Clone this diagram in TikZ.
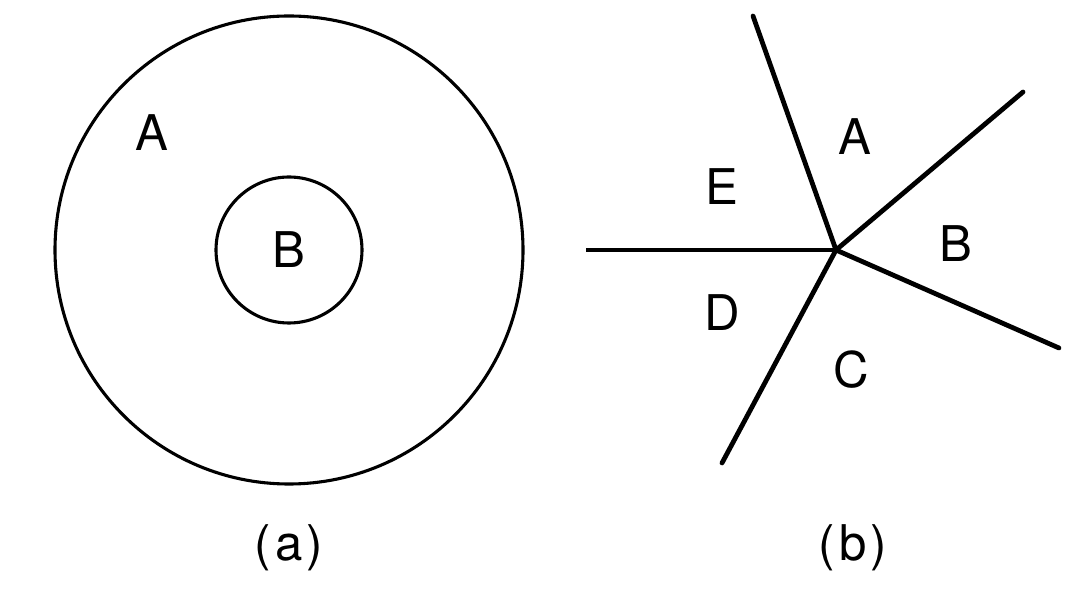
\documentclass[tikz,border=0pt]{standalone}
\usepackage{fontspec}
\setmainfont{TeX Gyre Heros}
\begin{document}
\begin{tikzpicture}[x=0.025cm, y=-0.025cm,
  lbl/.style={font=\fontsize{35}{40}\selectfont, inner sep=0pt},
  ring/.style={line width=2.2pt},
  spoke/.style={line width=3.4pt}]
\useasboundingbox (0,0) rectangle (1088,596);
\draw[ring] (289,250) circle (234);
\draw[ring] (289,250) circle (73);

\node[lbl] (outer) at (152,133) {A};
\node[lbl] (inner) at (289,250) {B};
\node[lbl] (capa) at (289,548) {(\kern3pt a\kern3pt)};

\coordinate (hub) at (836,250);
\coordinate (top) at (753,16);
\coordinate (upright) at (1023,92);
\coordinate (lowright) at (1059,348);
\coordinate (lowleft) at (722,463);
\coordinate (left) at (586,250);
\foreach \e in {top,upright,lowright,lowleft}
  \draw[spoke, line cap=round] (hub) -- (\e);
\draw[spoke, line width=2.8pt] (hub) -- (left);

\node[lbl] (ra) at (855,137) {A};
\node[lbl] (re) at (722,187) {E};
\node[lbl] (rb) at (956,244) {B};
\node[lbl] (rd) at (722,313) {D};
\node[lbl] (rc) at (851,370) {C};
\node[lbl] (capb) at (853,548) {(\kern3pt b\kern3pt)};
\end{tikzpicture}
\end{document}
